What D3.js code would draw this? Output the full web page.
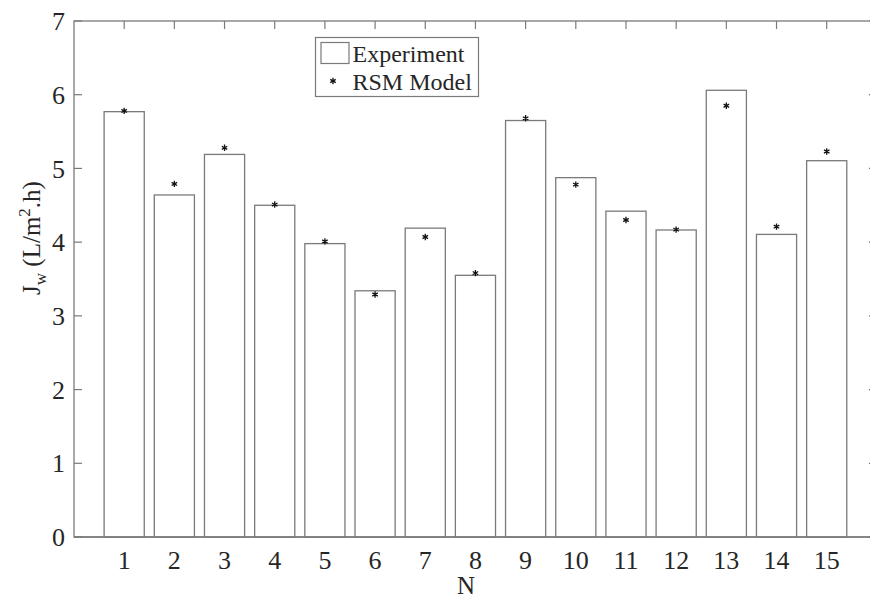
<!DOCTYPE html>
<html>
<head>
<meta charset="utf-8">
<script src="https://cdn.jsdelivr.net/npm/d3@7"></script>
<style>
  html, body { margin: 0; padding: 0; background: #fff; }
  svg { display: block; }
  text { font-family: "Liberation Serif", "Times New Roman", serif; fill: #262626; }
</style>
</head>
<body>
<svg id="chart" width="870" height="600"></svg>
<script>
// Run numbers N = 1..15
const runs = [1, 2, 3, 4, 5, 6, 7, 8, 9, 10, 11, 12, 13, 14, 15];
// Measured permeate flux J_w (L/m².h)
const experiment = [5.77, 4.64, 5.19, 4.50, 3.98, 3.34, 4.19, 3.55, 5.65, 4.875, 4.42, 4.165, 6.06, 4.105, 5.105];
// Flux predicted by the response-surface model
const rsmModel = [5.78, 4.79, 5.28, 4.51, 4.01, 3.29, 4.07, 3.58, 5.68, 4.78, 4.30, 4.17, 5.85, 4.21, 5.23];
const yTicks = [0, 1, 2, 3, 4, 5, 6, 7];

const svg = d3.select("#chart");
const plotLeft = 74, plotTop = 21, plotBottom = 537;
const x = d3.scaleLinear().domain([0, 16]).range([plotLeft, plotLeft + 16 * 50.18]);
const y = d3.scaleLinear().domain([0, 7]).range([plotBottom, plotTop]);
const plotRight = x(16);
const barW = 0.8;
const axisColor = "#7a7a7a";
const tickLen = 8;

// ticks (drawn beneath the bars, as in the axes layer)
const g = svg.append("g");
g.selectAll(".ytick").data(yTicks).enter().append("line")
  .attr("x1", plotLeft).attr("x2", plotLeft + tickLen)
  .attr("y1", d => y(d)).attr("y2", d => y(d))
  .attr("stroke", axisColor).attr("stroke-width", 1.2);
g.selectAll(".ytickR").data(yTicks).enter().append("line")
  .attr("x1", plotRight).attr("x2", plotRight - tickLen)
  .attr("y1", d => y(d)).attr("y2", d => y(d))
  .attr("stroke", axisColor).attr("stroke-width", 1.2);
g.selectAll(".xtickT").data(runs).enter().append("line")
  .attr("x1", d => x(d)).attr("x2", d => x(d))
  .attr("y1", plotTop).attr("y2", plotTop + tickLen)
  .attr("stroke", axisColor).attr("stroke-width", 1.2);
g.selectAll(".xtickB").data(runs).enter().append("line")
  .attr("x1", d => x(d)).attr("x2", d => x(d))
  .attr("y1", plotBottom).attr("y2", plotBottom - tickLen)
  .attr("stroke", axisColor).attr("stroke-width", 1.2);

// axes box
g.append("rect")
  .attr("x", plotLeft).attr("y", plotTop)
  .attr("width", plotRight - plotLeft).attr("height", plotBottom - plotTop)
  .attr("fill", "none").attr("stroke", axisColor).attr("stroke-width", 1.3);

// bars
svg.append("g").selectAll("rect").data(runs).enter().append("rect")
  .attr("x", (d) => x(d - barW / 2))
  .attr("width", (d) => x(d + barW / 2) - x(d - barW / 2))
  .attr("y", (d, i) => y(experiment[i]))
  .attr("height", (d, i) => y(0) - y(experiment[i]))
  .attr("fill", "#fff").attr("stroke", axisColor).attr("stroke-width", 1.3);

// baseline over bars
svg.append("line").attr("x1", plotLeft).attr("x2", plotRight)
  .attr("y1", plotBottom).attr("y2", plotBottom)
  .attr("stroke", axisColor).attr("stroke-width", 1.3);

// model markers
const starType = d3.symbolAsterisk || d3.symbolCross;
const star = d3.symbol().type(starType).size(28);
svg.append("g").selectAll("path").data(runs).enter().append("path")
  .attr("d", star)
  .attr("transform", (d, i) => `translate(${x(d)},${y(rsmModel[i])})`)
  .attr("fill", "#111").attr("stroke", "#111").attr("stroke-width", 1.3);

// tick labels
svg.append("g").selectAll("text").data(yTicks).enter().append("text")
  .attr("x", plotLeft - 9).attr("y", d => y(d)).attr("dy", "0.35em")
  .attr("text-anchor", "end").attr("font-size", 26)
  .text(d => d);
svg.append("g").selectAll("text").data(runs).enter().append("text")
  .attr("x", d => x(d)).attr("y", 569)
  .attr("text-anchor", "middle").attr("font-size", 26)
  .text(d => d);

// axis titles
svg.append("text").attr("x", 466).attr("y", 594)
  .attr("text-anchor", "middle").attr("font-size", 25).text("N");

const yl = svg.append("text")
  .attr("transform", "translate(40,238) rotate(-90)")
  .attr("text-anchor", "middle").attr("font-size", 25);
yl.append("tspan").text("J");
yl.append("tspan").attr("font-size", 17).attr("dy", 6).text("w");
yl.append("tspan").attr("dy", -6).text("\u00a0(L/m");
yl.append("tspan").attr("font-size", 17).attr("dy", -10).text("2");
yl.append("tspan").attr("dy", 10).text(".h)");

// legend
const lg = svg.append("g");
lg.append("rect").attr("x", 315.5).attr("y", 37.5).attr("width", 163).attr("height", 59)
  .attr("fill", "#fff").attr("stroke", axisColor).attr("stroke-width", 1.2);
lg.append("rect").attr("x", 321).attr("y", 42.5).attr("width", 28).attr("height", 21)
  .attr("fill", "#fff").attr("stroke", axisColor).attr("stroke-width", 1.2);
lg.append("text").attr("x", 352.5).attr("y", 61.5).attr("font-size", 24).text("Experiment");
lg.append("path").attr("d", star).attr("transform", "translate(333,81)")
  .attr("fill", "#111").attr("stroke", "#111").attr("stroke-width", 1.3);
lg.append("text").attr("x", 352.5).attr("y", 89.5).attr("font-size", 24).text("RSM Model");
</script>
</body>
</html>
